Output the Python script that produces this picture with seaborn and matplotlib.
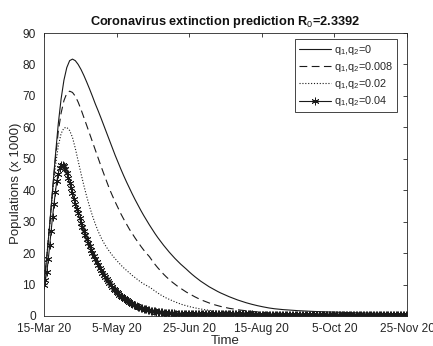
import numpy as np
import pandas as pd
import matplotlib
matplotlib.use("Agg")
import matplotlib.pyplot as plt
import seaborn as sns

# ---------------- data ----------------
start_date = "2020-03-15"
line_step_days = 2      # sampling of the three plain lines
marker_step_days = 1    # sampling of the asterisk series
title_text = "Coronavirus extinction prediction R$_0$=2.3392"
series_labels = ["q$_1$,q$_2$=0", "q$_1$,q$_2$=0.008", "q$_1$,q$_2$=0.02", "q$_1$,q$_2$=0.04"]
tick_dates = ["2020-03-15", "2020-05-05", "2020-06-25", "2020-08-15", "2020-10-05", "2020-11-25"]
tick_labels = ["15-Mar 20", "5-May 20", "25-Jun 20", "15-Aug 20", "5-Oct 20", "25-Nov 20"]
y_ticks = [0, 10, 20, 30, 40, 50, 60, 70, 80, 90]

q0 = [10, 19, 29, 40, 51, 61, 69, 75, 79, 81.2, 81.7, 81.2, 80, 78.4, 76.5, 74.4, 72.2, 69.9,
      67.5, 65.3, 63, 60.6, 58.2, 55.8, 53.4, 51.1, 48.9, 46.7, 44.6, 42.6, 40.7, 38.8, 37, 35.3,
      33.6, 32, 30.5, 29, 27.6, 26.2, 24.9, 23.7, 22.5, 21.4, 20.3, 19.3, 18.3, 17.4, 16.5, 15.7,
      14.9, 14.05, 13.25, 12.5, 11.8, 11.1, 10.5, 9.9, 9.3, 8.8, 8.3, 7.8, 7.35, 6.95, 6.55, 6.15,
      5.8, 5.45, 5.1, 4.8, 4.5, 4.22, 3.96, 3.72, 3.49, 3.28, 3.08, 2.9, 2.72, 2.56, 2.42, 2.3,
      2.2, 2.11, 2.03, 1.96, 1.89, 1.83, 1.77, 1.71, 1.66, 1.61, 1.56, 1.52, 1.48, 1.44, 1.4,
      1.37, 1.34, 1.31, 1.28, 1.25, 1.22, 1.19, 1.16, 1.13, 1.1, 1.08, 1.05, 1.03, 1.0, 0.98,
      0.96, 0.94, 0.92, 0.9, 0.88, 0.86, 0.84, 0.82, 0.8, 0.79, 0.77, 0.76, 0.74, 0.73, 0.72, 0.7]

q008 = [10, 19, 29, 40, 50, 58.5, 64.5, 68.5, 70.8, 71.5, 71.1, 69.9, 68.0, 65.7, 63.2, 60.6,
        58, 55.4, 52.8, 50.2, 47.7, 45.2, 42.8, 40.4, 38.3, 36.3, 34.4, 32.5, 30.8, 29.2, 27.6,
        26.2, 24.8, 23.5, 22.2, 21.0, 19.9, 18.9, 17.6, 16.4, 15.3, 14.3, 13.3, 12.4, 11.6, 10.8,
        10.1, 9.4, 8.8, 8.2, 7.6, 7.1, 6.6, 6.1, 5.65, 5.2, 4.85, 4.5, 4.15, 3.85, 3.55, 3.3,
        3.05, 2.85, 2.65, 2.45, 2.3, 2.15, 2.0, 1.88, 1.76, 1.65, 1.55, 1.46, 1.38, 1.3, 1.23,
        1.16, 1.1, 1.04, 0.99, 0.94, 0.9, 0.86, 0.82, 0.79, 0.76, 0.73, 0.7, 0.68, 0.66, 0.64,
        0.62, 0.6, 0.58, 0.57, 0.55, 0.54, 0.53, 0.52, 0.51, 0.5, 0.5, 0.49, 0.49, 0.48, 0.48,
        0.47, 0.47, 0.47, 0.46, 0.46, 0.46, 0.45, 0.45, 0.45, 0.44, 0.44, 0.44, 0.44, 0.43, 0.43,
        0.43, 0.43, 0.42, 0.42, 0.42, 0.42]

q02 = [10, 19, 29, 39, 47.5, 54, 58, 59.8, 60, 59, 56.8, 53.3, 49.3, 45.3, 41.5, 38, 34.8,
       31.9, 29.3, 27.0, 25.0, 23.3, 21.8, 20.5, 19.3, 18.2, 17.2, 16.2, 15.3, 14.5, 13.7,
       12.9, 12.2, 11.5, 10.8, 10.2, 9.7, 9.2, 8.6, 7.9, 7.3, 6.7, 6.2, 5.7, 5.3, 4.9, 4.5, 4.15,
       3.8, 3.5, 3.25, 3.0, 2.78, 2.58, 2.4, 2.23, 2.07, 1.93, 1.8, 1.68, 1.57, 1.47, 1.38, 1.3,
       1.22, 1.15, 1.09, 1.03, 0.98, 0.93, 0.89, 0.85, 0.81, 0.78, 0.75, 0.72, 0.69, 0.67, 0.65,
       0.63, 0.61, 0.59, 0.57, 0.56, 0.55, 0.54, 0.53, 0.53, 0.52, 0.52, 0.51, 0.51, 0.5, 0.5,
       0.5, 0.49, 0.49, 0.49, 0.48, 0.48, 0.48, 0.47, 0.47, 0.47, 0.47, 0.46, 0.46, 0.46, 0.46,
       0.46, 0.45, 0.45, 0.45, 0.45, 0.45, 0.45, 0.44, 0.44, 0.44, 0.44, 0.44, 0.44, 0.44, 0.43,
       0.43, 0.43, 0.43, 0.43]

# asterisk series, one value per day (day 0 .. day 255)
q04 = [10, 11.5, 14, 18, 22.5, 27, 31.5, 35.5, 39.5, 42.8, 45.3, 47, 47.9, 48, 47.6, 46.7,
       45.5, 44, 42.4, 40.7, 39, 37.3, 35.7, 34.1, 32.6, 31.1, 29.7, 28.3, 27, 25.7, 24.5,
       23.3, 22.2, 21.1, 20.1, 19.1, 18.1, 17.2, 16.3, 15.4, 14.6, 13.8, 13.1, 12.4, 11.7, 11.0,
       10.4, 9.8, 9.2, 8.7, 8.2, 7.7, 7.2, 6.8, 6.4, 6.0, 5.6, 5.3, 5.0, 4.7, 4.4, 4.1, 3.85,
       3.6, 3.4, 3.2, 3.0, 2.82, 2.65, 2.49, 2.34, 2.2, 2.07, 1.95, 1.84, 1.74, 1.64, 1.55,
       1.47, 1.39, 1.32, 1.25, 1.19, 1.13, 1.08, 1.03, 0.99, 0.95, 0.91, 0.88, 0.85, 0.82, 0.79,
       0.77, 0.75, 0.73, 0.71, 0.69, 0.68, 0.66, 0.65, 0.64, 0.63, 0.62, 0.61, 0.6, 0.6, 0.59,
       0.58, 0.58, 0.57, 0.57, 0.56, 0.56, 0.55, 0.55, 0.55, 0.54, 0.54, 0.54, 0.53, 0.53, 0.53,
       0.52, 0.52, 0.52, 0.52, 0.51, 0.51, 0.51, 0.51, 0.5, 0.5, 0.5, 0.5, 0.5, 0.49, 0.49,
       0.49, 0.49, 0.49, 0.48, 0.48, 0.48, 0.48, 0.48, 0.48, 0.47, 0.47, 0.47, 0.47, 0.47, 0.47,
       0.46, 0.46, 0.46, 0.46, 0.46, 0.46, 0.46, 0.45, 0.45, 0.45, 0.45, 0.45, 0.45, 0.45, 0.45,
       0.44, 0.44, 0.44, 0.44, 0.44, 0.44, 0.44, 0.44, 0.44, 0.43, 0.43, 0.43, 0.43, 0.43, 0.43,
       0.43, 0.43, 0.43, 0.43, 0.42, 0.42, 0.42, 0.42, 0.42, 0.42, 0.42, 0.42, 0.42, 0.42, 0.42,
       0.41, 0.41, 0.41, 0.41, 0.41, 0.41, 0.41, 0.41, 0.41, 0.41, 0.41, 0.41, 0.41, 0.4, 0.4,
       0.4, 0.4, 0.4, 0.4, 0.4, 0.4, 0.4, 0.4, 0.4, 0.4, 0.4, 0.4, 0.4, 0.4, 0.4, 0.4, 0.4,
       0.4, 0.4, 0.4, 0.4, 0.4, 0.4, 0.4, 0.4, 0.4, 0.4, 0.4, 0.4, 0.4, 0.4, 0.4, 0.4, 0.4,
       0.4, 0.4, 0.4, 0.4, 0.4, 0.4, 0.4, 0.4, 0.4, 0.4]

# ---------------- build frame ----------------
series = [q0, q008, q02, q04]
steps = [line_step_days, line_step_days, line_step_days, marker_step_days]
frames = []
for lab, vals, st in zip(series_labels, series, steps):
    d = pd.date_range(start_date, periods=len(vals), freq=f"{st}D")
    frames.append(pd.DataFrame({"Time": d, "Pop": vals, "series": lab}))
df = pd.concat(frames, ignore_index=True)

# ---------------- style ----------------
sns.set_theme(style="white")
plt.rcParams["font.family"] = ["Liberation Sans", "DejaVu Sans"]
plt.rcParams["mathtext.fontset"] = "custom"
plt.rcParams["mathtext.rm"] = "Liberation Sans"
plt.rcParams["mathtext.it"] = "Liberation Sans"
plt.rcParams["mathtext.bf"] = "Liberation Sans:bold"

fig = plt.figure(figsize=(4.33, 3.46), dpi=100)
ax = fig.add_axes([44 / 433, 1 - 316 / 346, (407 - 44) / 433, (316 - 33) / 346])

line_color = "#1a1a1a"
styles = {
    series_labels[0]: dict(linestyle="-", marker=None),
    series_labels[1]: dict(linestyle=(0, (7, 4)), marker=None),
    series_labels[2]: dict(linestyle=(0, (1, 1.6)), marker=None),
    series_labels[3]: dict(linestyle="-", marker=(6, 2, 0), markersize=5.5,
                           markeredgewidth=0.6, markeredgecolor=line_color),
}
for lab in series_labels:
    sub = df[df["series"] == lab]
    sns.lineplot(data=sub, x="Time", y="Pop", ax=ax, color=line_color, lw=0.8,
                 label=lab, **styles[lab])

ax.set_xlim(pd.Timestamp(tick_dates[0]), pd.Timestamp(tick_dates[-1]))
ax.set_ylim(0, 90)
ax.set_xticks([pd.Timestamp(t) for t in tick_dates])
ax.set_xticklabels(tick_labels)
ax.set_yticks(y_ticks)

axis_col = "#262626"
for s in ax.spines.values():
    s.set_visible(True)
    s.set_color(axis_col)
    s.set_linewidth(0.6)
ax.tick_params(direction="in", length=3, width=0.6, colors=axis_col,
               labelsize=8.6, top=True, right=True, labelcolor="#262626")
ax.tick_params(axis="y", pad=6)
ax.tick_params(axis="x", pad=5)

ax.set_title(title_text, fontsize=9.2, fontweight="bold", color="#111111", pad=6)
ax.set_xlabel("Time", fontsize=9.5, color="#262626", labelpad=0)
ax.set_ylabel("Populations (x 1000)", fontsize=9.5, color="#262626")
ax.yaxis.set_label_coords(-0.06, 0.47)

leg = ax.legend(loc="upper right", bbox_to_anchor=(0.973, 0.979), fontsize=7.8,
                frameon=True, fancybox=False, framealpha=1, edgecolor=axis_col,
                handlelength=3.0, borderpad=0.35, labelspacing=0.3, handletextpad=0.25,
                borderaxespad=0)
leg.get_frame().set_linewidth(0.6)

fig.savefig("out.png", dpi=100)
